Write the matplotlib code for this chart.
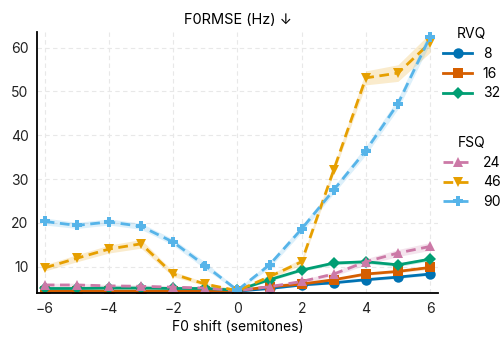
import numpy as np
import matplotlib
matplotlib.use("Agg")
import matplotlib.pyplot as plt

plt.rcParams['font.family'] = ['Inter', 'DejaVu Sans']

# data
shift = [-6, -5, -4, -3, -2, -1, 0, 1, 2, 3, 4, 5, 6]

rvq_labels = ["8", "16", "32"]
rvq_8 = [4.2, 4.2, 4.2, 4.2, 4.2, 4.3, 4.4, 5.0, 5.8, 6.3, 7.0, 7.6, 8.3]
rvq_16 = [4.4, 4.4, 4.4, 4.4, 4.4, 4.5, 4.5, 5.4, 6.0, 7.0, 8.3, 8.9, 9.8]
rvq_32 = [5.0, 5.0, 5.1, 5.1, 5.0, 5.0, 4.6, 7.0, 9.2, 10.8, 11.1, 10.4, 11.7]
rvq_8_err = [0.1, 0.1, 0.1, 0.1, 0.1, 0.1, 0.1, 0.2, 0.2, 0.2, 0.3, 0.3, 0.3]
rvq_16_err = [0.1, 0.1, 0.1, 0.1, 0.1, 0.1, 0.1, 0.2, 0.2, 0.3, 0.3, 0.3, 0.4]
rvq_32_err = [0.2, 0.2, 0.2, 0.2, 0.2, 0.2, 0.1, 0.3, 0.3, 0.4, 0.4, 0.4, 0.4]

fsq_labels = ["24", "46", "90"]
fsq_24 = [5.8, 5.8, 5.6, 5.5, 5.3, 5.1, 4.5, 5.4, 6.6, 8.3, 11.1, 13.1, 14.6]
fsq_46 = [9.7, 11.9, 14.0, 15.2, 8.3, 6.0, 4.5, 7.7, 11.1, 32.1, 53.1, 54.2, 61.1]
fsq_90 = [20.3, 19.4, 20.2, 19.2, 15.6, 10.2, 4.6, 10.4, 18.6, 27.5, 36.5, 47.2, 62.5]
fsq_24_err = [0.4, 0.4, 0.3, 0.3, 0.3, 0.3, 0.2, 0.3, 0.4, 0.5, 0.7, 0.8, 0.9]
fsq_46_err = [0.7, 0.8, 0.9, 1.0, 0.6, 0.4, 0.2, 0.5, 0.7, 0.8, 1.6, 1.9, 2.2]
fsq_90_err = [0.8, 0.7, 0.7, 0.7, 0.7, 0.8, 0.3, 0.7, 0.8, 0.8, 1.0, 1.2, 1.5]

rvq_colors = ["#0072B2", "#D55E00", "#009E73"]
fsq_colors = ["#CC79A7", "#E69F00", "#56B4E9"]
rvq_markers = ["o", "s", "D"]
fsq_markers = ["^", "v", "P"]

fig = plt.figure(figsize=(5.03, 3.37), dpi=100)
ax = fig.add_axes([0.0736, 0.1297, 0.7974, 0.7743])

x = np.array(shift)


def draw(vals, errs, color, marker, ls, label):
    vals = np.array(vals)
    errs = np.array(errs)
    ax.fill_between(x, vals - errs, vals + errs, color=color, alpha=0.2,
                    linewidth=0)
    line, = ax.plot(x, vals, color=color, marker=marker, ls=ls, lw=2,
                    markersize=6.5 if marker == "D" else 7.5,
                    markeredgewidth=0, label=label)
    return line


rvq_lines = []
for v, e, c, m, l in zip([rvq_8, rvq_16, rvq_32],
                         [rvq_8_err, rvq_16_err, rvq_32_err],
                         rvq_colors, rvq_markers, rvq_labels):
    rvq_lines.append(draw(v, e, c, m, "-", l))

fsq_lines = []
for v, e, c, m, l in zip([fsq_24, fsq_46, fsq_90],
                         [fsq_24_err, fsq_46_err, fsq_90_err],
                         fsq_colors, fsq_markers, fsq_labels):
    fsq_lines.append(draw(v, e, c, m, (0, (3.5, 2)), l))

ax.set_xlim(-6.24, 6.25)
ax.set_ylim(3.9, 63.5)
ax.set_xticks([-6, -4, -2, 0, 2, 4, 6])
ax.set_xticklabels(["\u22126", "\u22124", "\u22122", "0", "2", "4", "6"])
ax.set_yticks([10, 20, 30, 40, 50, 60])
ax.tick_params(length=0, labelsize=10, colors="#222222", pad=6)
ax.grid(True, ls=(0, (4, 3)), color="#e8e8e8", lw=0.8)
ax.set_axisbelow(True)
for s in ["top", "right"]:
    ax.spines[s].set_visible(False)
for s in ["left", "bottom"]:
    ax.spines[s].set_linewidth(1.3)
    ax.spines[s].set_color("black")

ax.set_title("F0RMSE (Hz) \u2193", fontsize=10.5, pad=6)
ax.set_xlabel("F0 shift (semitones)", fontsize=10, labelpad=3)

leg_kw = dict(loc="upper left", frameon=False, fontsize=10,
              title_fontsize=10, handlelength=2.1, labelspacing=0.42,
              handletextpad=0.75, borderpad=0, borderaxespad=0)
fig.legend(handles=rvq_lines, title="RVQ",
           bbox_to_anchor=(0.881, 0.920), **leg_kw)
fig.legend(handles=fsq_lines, title="FSQ",
           bbox_to_anchor=(0.881, 0.597), **leg_kw)

fig.savefig("out.png", dpi=100)
